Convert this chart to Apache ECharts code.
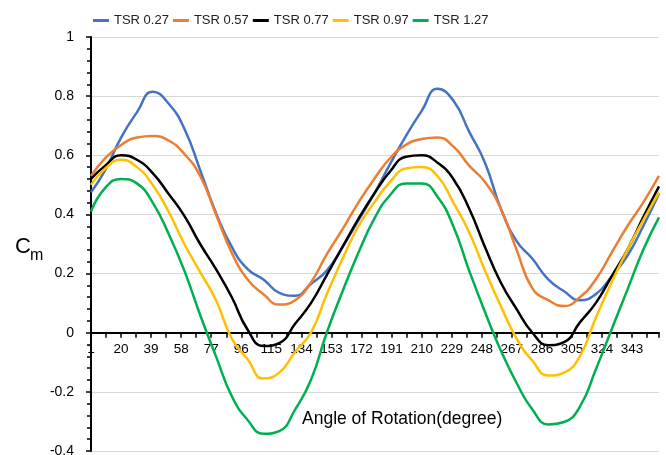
<!DOCTYPE html>
<html>
<head>
<meta charset="utf-8">
<script src="https://cdn.jsdelivr.net/npm/echarts@6/dist/echarts.min.js"></script>
<style>
html,body{margin:0;padding:0;background:#fff;}
#chart{width:666px;height:455px;}
</style>
</head>
<body>
<div id="chart"></div>
<script>
// Angle of rotation (degree) at which values were read
var angles = [1,10,20,30,40,50,60,70,80,90,100,110,120,130,140,150,160,170,180,190,200,210,220,230,240,250,260,270,280,290,300,310,320,330,340,350,360];

var seriesNames = ['TSR 0.27','TSR 0.57','TSR 0.77','TSR 0.97','TSR 1.27'];

var tsr027 = [0.475,0.55,0.66,0.745,0.815,0.775,0.69,0.55,0.405,0.29,0.215,0.18,0.135,0.125,0.165,0.21,0.29,0.38,0.47,0.57,0.665,0.75,0.825,0.785,0.68,0.575,0.42,0.31,0.25,0.18,0.14,0.11,0.13,0.19,0.26,0.36,0.47];
var tsr057 = [0.53,0.59,0.635,0.66,0.665,0.65,0.605,0.53,0.40,0.27,0.18,0.13,0.095,0.11,0.17,0.265,0.35,0.44,0.52,0.59,0.635,0.655,0.66,0.63,0.565,0.51,0.42,0.28,0.15,0.11,0.09,0.12,0.18,0.27,0.36,0.44,0.53];
var tsr077 = [0.52,0.565,0.60,0.585,0.54,0.47,0.395,0.30,0.215,0.12,0.01,-0.045,-0.035,0.03,0.10,0.195,0.29,0.385,0.47,0.545,0.595,0.60,0.575,0.52,0.42,0.29,0.17,0.08,0.00,-0.042,-0.032,0.035,0.10,0.19,0.28,0.39,0.495];
var tsr097 = [0.50,0.555,0.585,0.56,0.50,0.41,0.30,0.205,0.11,-0.02,-0.09,-0.155,-0.135,-0.065,0.0,0.13,0.25,0.36,0.44,0.51,0.555,0.56,0.53,0.44,0.34,0.21,0.09,-0.02,-0.095,-0.145,-0.135,-0.08,0.05,0.17,0.28,0.38,0.475];
var tsr127 = [0.41,0.49,0.52,0.505,0.44,0.335,0.21,0.06,-0.08,-0.215,-0.295,-0.342,-0.333,-0.26,-0.16,0.0,0.14,0.27,0.385,0.465,0.505,0.505,0.46,0.36,0.21,0.07,-0.06,-0.17,-0.26,-0.31,-0.302,-0.25,-0.125,0.01,0.145,0.28,0.39];

var xTickLabels = ['1','20','39','58','77','96','115','134','153','172','191','210','229','248','267','286','305','324','343'];
var yTickLabels = ['-0.4','-0.2','0','0.2','0.4','0.6','0.8','1'];

var colors = ['#4472C4','#ED7D31','#000000','#FFC000','#00B050'];
var allValues = [tsr027, tsr057, tsr077, tsr097, tsr127];

function toData(vals){
  return angles.map(function(a, i){ return [a - 1, vals[i]]; });
}

var chart = echarts.init(document.getElementById('chart'), null, {renderer:'canvas'});

var series = seriesNames.map(function(n, k){
  return {
    name: n,
    type: 'line',
    data: toData(allValues[k]),
    smooth: true,
    symbol: 'none',
    lineStyle: {color: colors[k], width: 2.5},
    itemStyle: {color: colors[k]}
  };
});

var gridTop = 37, gridBottom = 4, H = 455;
var gridH = H - gridTop - gridBottom;
var yMin = -0.4, yMax = 1;
var zeroOffset = -gridH * (0 - yMin) / (yMax - yMin);

chart.setOption({
  animation: false,
  backgroundColor: '#fff',
  color: colors,
  legend: {
    left: 88, top: 9,
    icon: 'rect',
    itemWidth: 16, itemHeight: 3, itemGap: 4,
    data: seriesNames,
    textStyle: {fontSize: 13, color: '#222', fontFamily: '"Liberation Sans", Arial, sans-serif'}
  },
  grid: {left: 91, right: 7, top: gridTop, bottom: gridBottom, containLabel: false, outerBoundsMode: 'none'},
  xAxis: {
    type: 'value', min: 0, max: 359, interval: 19,
    offset: zeroOffset,
    axisLine: {show: true, onZero: false, lineStyle: {color: '#000', width: 2}},
    axisTick: {show: true, length: 5, lineStyle: {color: '#000', width: 1.5}},
    minorTick: {show: true, splitNumber: 2, length: 5, lineStyle: {color: '#000', width: 1.5}},
    splitLine: {show: false},
    axisLabel: {
      margin: 10, fontSize: 13.5, color: '#000', fontFamily: '"Liberation Sans", Arial, sans-serif',
      formatter: function(v){ var i = Math.round(v / 19); return (v % 19 === 0 && xTickLabels[i]) ? xTickLabels[i] : ''; },
      showMaxLabel: false
    }
  },
  yAxis: {
    type: 'value', min: yMin, max: yMax, interval: 0.2,
    axisLine: {show: true, onZero: false, lineStyle: {color: '#000', width: 2}},
    axisTick: {show: true, length: 5, lineStyle: {color: '#000', width: 1.5}},
    minorTick: {show: true, splitNumber: 5, length: 4, lineStyle: {color: '#000', width: 1.5}},
    splitLine: {show: true, lineStyle: {color: '#d9d9d9', width: 1}},
    axisLabel: {
      margin: 17, fontSize: 14, color: '#000', fontFamily: '"Liberation Sans", Arial, sans-serif',
      formatter: function(v){ var i = Math.round((v - yMin) / 0.2); return yTickLabels[i] || ''; }
    }
  },
  graphic: [
    {type: 'text', left: 15, top: 236, style: {text: 'C', fontSize: 22, fill: '#000', fontFamily: '"Liberation Sans", Arial, sans-serif'}},
    {type: 'text', left: 30, top: 248, style: {text: 'm', fontSize: 16, fill: '#000', fontFamily: '"Liberation Sans", Arial, sans-serif'}},
    {type: 'text', left: 302, top: 410, style: {text: 'Angle of Rotation(degree)', fontSize: 17.5, fill: '#000', fontFamily: '"Liberation Sans", Arial, sans-serif'}}
  ],
  series: series
});
</script>
</body>
</html>
